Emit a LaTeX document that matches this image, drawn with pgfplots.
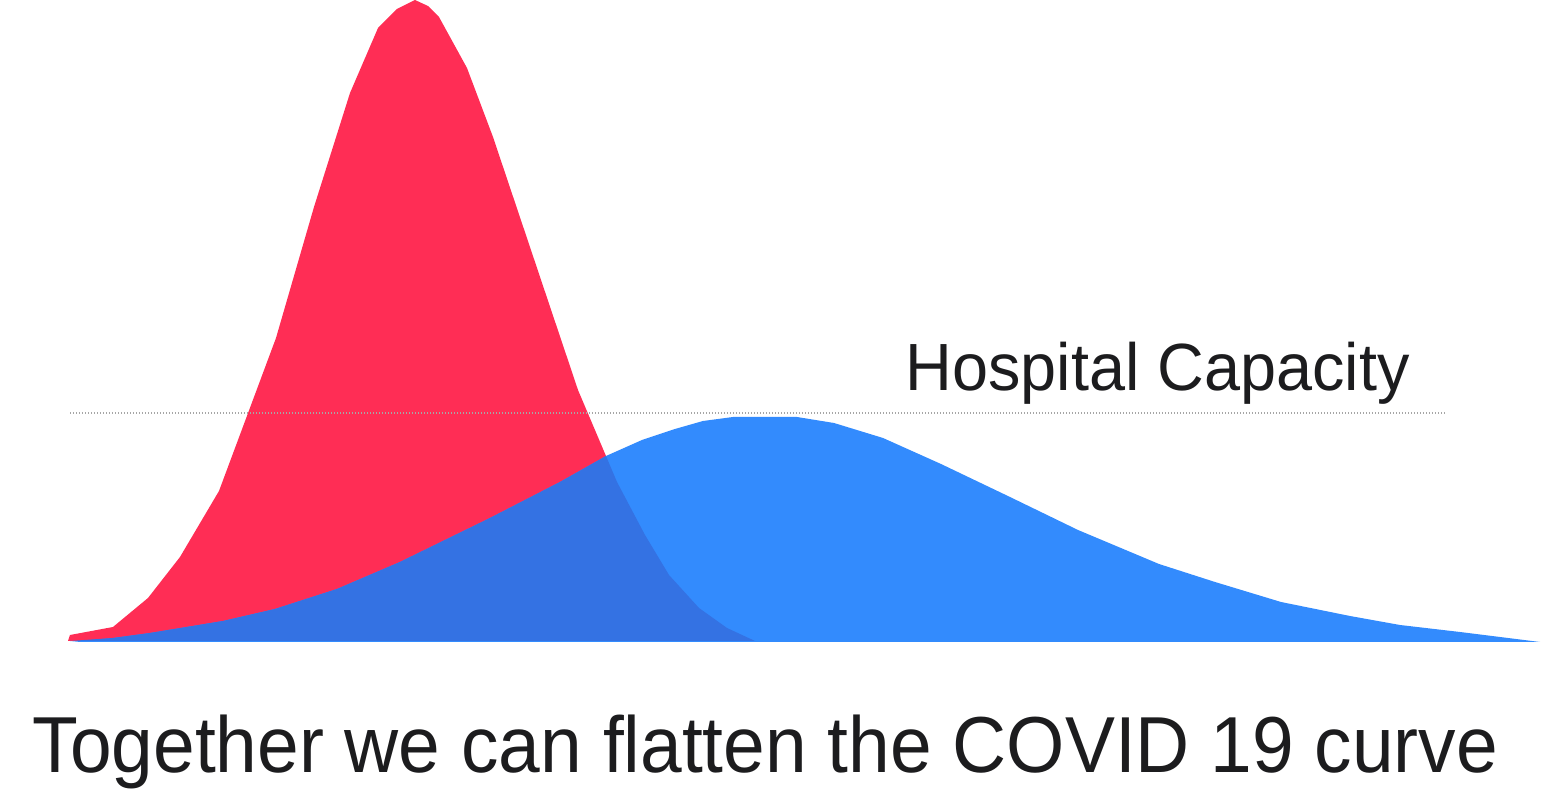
\documentclass[border=0pt]{standalone}
\usepackage{pgfplots}
\pgfplotsset{compat=1.18}
\usepackage{fontspec}
\setmainfont{Liberation Sans}
\definecolor{cred}{HTML}{FF2D55}
\definecolor{cblue}{HTML}{338BFD}
\definecolor{cover}{HTML}{3472E3}
\definecolor{ctext}{HTML}{1C1C1E}
\begin{document}
\begin{tikzpicture}
\begin{axis}[name=ax,
  scale only axis, width=15.43cm, height=7.94cm,
  xmin=0, xmax=1543, ymin=-153, ymax=641,
  hide axis, clip=false]
% red curve (no social distancing)
\addplot[draw=none, fill=cred] coordinates {
(68,0) (70,6) (113,14) (148,43) (180,84) (219,150) (276,303) (314,434)
(350,548) (378,613) (397,632) (415,641) (428,635) (439,624) (467,573)
(493,504) (535,379) (578,251) (606,185) (617,159) (645,106) (669,66)
(699,33) (727,13) (755,0)} -- cycle;
% blue curve (flattened)
\addplot[draw=none, fill=cblue] coordinates {
(70,-1) (113,3) (150,8) (223,20) (275,32) (337,52) (400,79) (490,123)
(560,159) (606,185) (642,201) (675,212) (703,220) (733,224) (797,224)
(834,218) (883,203) (941,177) (1010,144) (1078,111) (1159,77) (1215,59)
(1281,39) (1350,25) (1400,16) (1460,9) (1540,-1)} -- cycle;
% overlap
\addplot[draw=none, fill=cover] coordinates {
(70,0) (113,3) (150,8) (223,20) (275,32) (337,52) (400,79) (490,123)
(560,159) (606,185) (617,159) (645,106) (669,66) (699,33) (727,13) (755,0)} -- cycle;
% hospital capacity line
\addplot[gray!70, line width=0.12mm, dash pattern=on 0.12mm off 0.18mm] coordinates {(70,228) (1445,228)};
\node[anchor=base west, inner sep=0pt, text=ctext, font=\fontsize{19}{22}\selectfont] at (axis cs:905,250) {\scalebox{0.97}[1]{Hospital Capacity}};
\node[anchor=base west, inner sep=0pt, text=ctext, font=\fontsize{22.6}{26}\selectfont] at (axis cs:32,-132) {\scalebox{0.943}[1]{Together we can flatten the COVID 19 curve}};
\end{axis}
\pgfresetboundingbox
\path[use as bounding box] (ax.south west) rectangle (ax.north east);
\end{tikzpicture}
\end{document}
